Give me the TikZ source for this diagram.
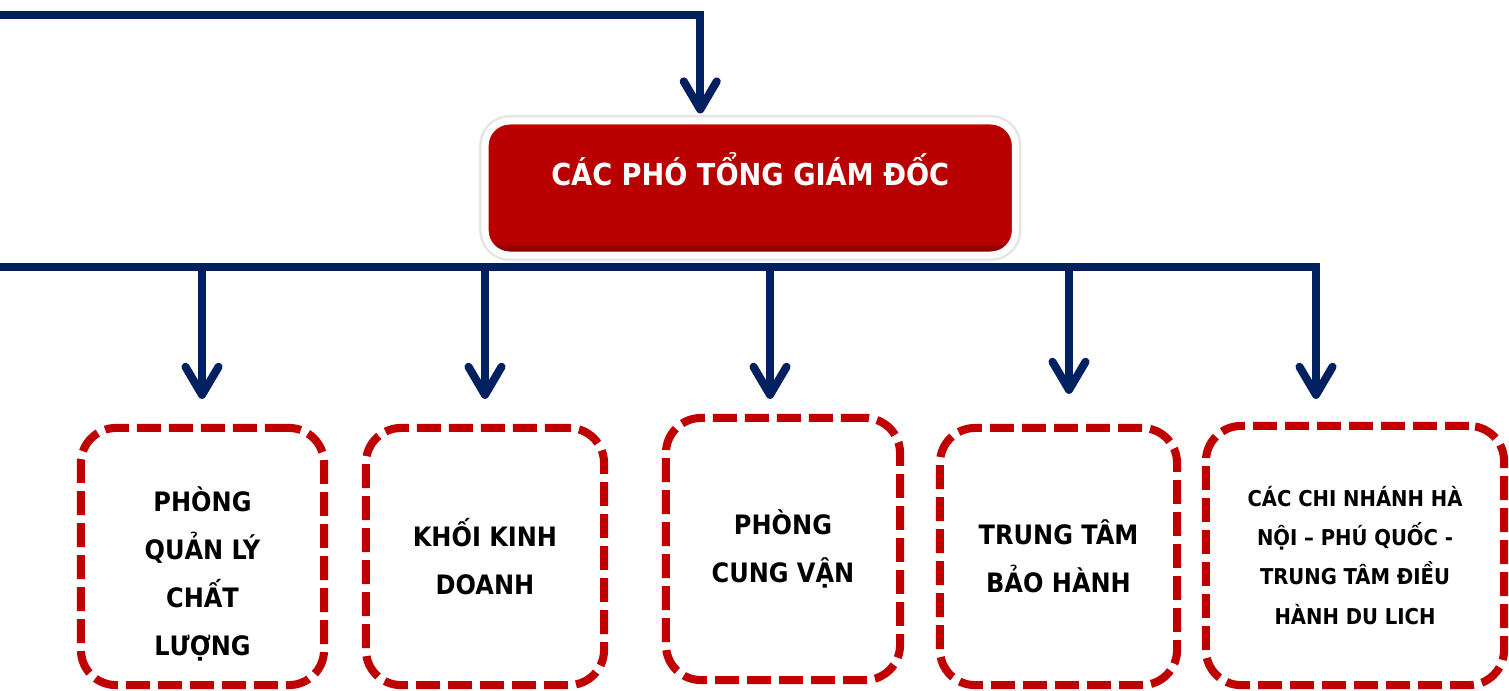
\documentclass[tikz,border=0pt]{standalone}
\usepackage{fontspec}
\setmainfont{DejaVu Sans Condensed}
\usetikzlibrary{arrows.meta,positioning,calc,shadows}
\definecolor{navy}{HTML}{002060}
\definecolor{dashred}{HTML}{C00000}
\definecolor{topred}{HTML}{D00000}
\definecolor{midred}{HTML}{B80000}
\definecolor{lowred}{HTML}{6E0000}
\pgfdeclareverticalshading{redbtn}{100bp}{color(0bp)=(lowred); color(25bp)=(lowred); color(27bp)=(midred!75!black); color(30bp)=(midred); color(72bp)=(midred); color(75bp)=(topred); color(100bp)=(topred)}
\tikzset{
  every node/.append style={font=\bfseries},
}

\begin{document}
\begin{tikzpicture}[
  x=0.01cm, y=-0.01cm,
  bus/.style={draw=navy, line width=2.3pt},
  arr/.style={-{Straight Barb[length=2.8mm, width=3.3mm, round]}, draw=navy, line width=2.3pt},
  chief/.style={draw=white, line width=2pt, rounded corners=7pt, shading=redbtn,
    preaction={draw=black!10, line width=3.4pt},
    text=white, font=\bfseries\fontsize{8.6}{10}\selectfont, minimum width=5.3cm, inner xsep=0pt, inner ysep=0pt,
    text height=0.64cm, text depth=0.70cm},
  dept/.style={draw=dashred, line width=2.3pt, dash pattern=on 6.8pt off 2.3pt, rounded corners=10pt, align=center,
    inner sep=2pt, text=black, font=\bfseries\fontsize{7.6}{13.7}\selectfont},
]
\useasboundingbox (0,0) rectangle (1509,690);

% Deputy directors box
\node[chief] (pho) at (750.25,188) {CÁC PHÓ TỔNG GIÁM ĐỐC};

% Departments (placed at coordinates)
\node[dept, minimum width=2.43cm, minimum height=2.57cm] (qlcl) at (202.5,556.5) {\rule{0pt}{17pt}PHÒNG\\QUẢN LÝ\\CHẤT\\LƯỢNG};
\node[dept, minimum width=2.38cm, minimum height=2.57cm] (kinhdoanh) at (485,556.5) {KHỐI KINH\\DOANH};
\node[dept, minimum width=2.34cm, minimum height=2.62cm] (cungvan) at (783,549) {PHÒNG\\CUNG VẬN};
\node[dept, minimum width=2.37cm, minimum height=2.57cm] (baohanh) at (1058.5,556.5) {TRUNG TÂM\\BẢO HÀNH};
\node[dept, minimum width=2.98cm, minimum height=2.59cm, font=\bfseries\fontsize{6.2}{11.1}\selectfont] (chinhanh) at (1355,555.5)
  {CÁC CHI NHÁNH HÀ\\NỘI – PHÚ QUỐC -\\TRUNG TÂM ĐIỀU\\HÀNH DU LICH};

% Incoming line from the left
\coordinate (topin) at (0,15);
\draw[arr, shorten >=0.04cm] (topin) -| ([xshift=-0.5cm]pho.north);

% Distribution bus
\coordinate (busL) at (0,267);
\coordinate (busR) at (1320,267);
\draw[bus] (busL) -- (busR);
\coordinate (b1) at (202,267);
\coordinate (b2) at (485,267);
\coordinate (b3) at (770,267);
\coordinate (b4) at (1069,267);
\coordinate (b5) at (1316,267);

% Arrows down to each department
\draw[arr, shorten >=0.25cm] (b1) -- (b1 |- qlcl.north);
\draw[arr, shorten >=0.25cm] (b2) -- (b2 |- kinhdoanh.north);
\draw[arr, shorten >=0.15cm] (b3) -- (b3 |- cungvan.north);
\draw[arr, shorten >=0.30cm] (b4) -- (b4 |- baohanh.north);
\draw[arr, shorten >=0.23cm] (b5) -- (b5 |- chinhanh.north);

\end{tikzpicture}
\end{document}
